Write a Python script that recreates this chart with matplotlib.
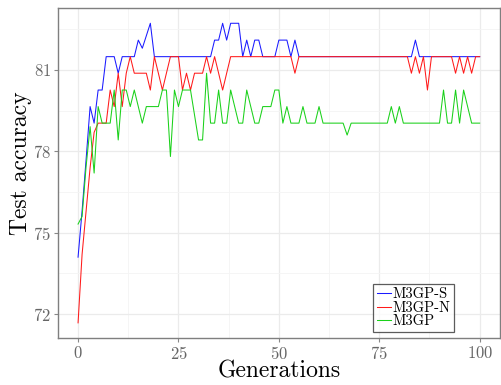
import matplotlib
matplotlib.use("Agg")
import matplotlib.pyplot as plt
import numpy as np
from matplotlib.ticker import MultipleLocator, FixedLocator

plt.rcParams['font.family'] = ['cmr10', 'DejaVu Serif']
plt.rcParams['axes.formatter.use_mathtext'] = True
plt.rcParams['axes.unicode_minus'] = False

generations = list(range(101))

m3gp_s = [74.1, 75.8, 77.7, 79.65, 79.04, 80.26, 80.26, 81.49, 81.49, 81.49,
          80.88, 81.49, 81.49, 81.49, 81.49, 82.1, 81.8, 82.26, 82.72, 81.49,
          81.49, 81.49, 81.49, 81.49, 81.49, 81.49, 81.49, 81.49, 81.49, 81.49,
          81.49, 81.49, 81.49, 81.49, 82.1, 82.1, 82.72, 82.1, 82.72, 82.72,
          82.72, 81.49, 82.1, 81.49, 82.1, 82.1, 81.49, 81.49, 81.49, 81.49,
          82.1, 82.1, 82.1, 81.49, 82.1, 81.49, 81.49, 81.49, 81.49, 81.49,
          81.49, 81.49, 81.49, 81.49, 81.49, 81.49, 81.49, 81.49, 81.49, 81.49,
          81.49, 81.49, 81.49, 81.49, 81.49, 81.49, 81.49, 81.49, 81.49, 81.49,
          81.49, 81.49, 81.49, 81.49, 82.1, 81.49, 81.49, 81.49, 81.49, 81.49,
          81.49, 81.49, 81.49, 81.49, 81.49, 81.49, 81.49, 81.49, 81.49, 81.49,
          81.49]

m3gp_n = [71.68, 74.2, 75.8, 77.4, 78.7, 79.04, 79.04, 79.04, 80.26, 79.65,
          80.88, 79.65, 80.88, 81.49, 80.88, 80.88, 80.88, 80.88, 80.26, 81.49,
          80.88, 80.26, 80.88, 81.49, 81.49, 81.49, 80.26, 80.88, 80.26, 80.88,
          80.88, 80.88, 81.49, 80.88, 81.49, 80.88, 80.26, 80.88, 81.49, 81.49,
          81.49, 81.49, 81.49, 81.49, 81.49, 81.49, 81.49, 81.49, 81.49, 81.49,
          81.49, 81.49, 81.49, 81.49, 80.88, 81.49, 81.49, 81.49, 81.49, 81.49,
          81.49, 81.49, 81.49, 81.49, 81.49, 81.49, 81.49, 81.49, 81.49, 81.49,
          81.49, 81.49, 81.49, 81.49, 81.49, 81.49, 81.49, 81.49, 81.49, 81.49,
          81.49, 81.49, 81.49, 80.88, 81.49, 80.88, 81.49, 80.26, 81.49, 81.49,
          81.49, 81.49, 81.49, 81.49, 80.88, 81.49, 80.88, 81.49, 80.88, 81.49,
          81.49]

m3gp = [75.32, 75.6, 77.44, 78.91, 77.2, 79.65, 79.04, 79.04, 79.04, 80.26,
        78.42, 80.26, 80.26, 79.65, 80.26, 79.65, 79.04, 79.65, 79.65, 79.65,
        79.65, 80.26, 80.26, 77.81, 80.26, 79.65, 80.26, 80.26, 80.26, 79.34,
        78.42, 78.42, 80.88, 79.04, 79.04, 80.26, 79.04, 79.04, 80.26, 79.65,
        79.04, 79.04, 80.26, 79.65, 79.04, 79.04, 79.65, 79.65, 79.65, 80.26,
        80.26, 79.04, 79.65, 79.04, 79.04, 79.04, 79.65, 79.04, 79.04, 79.04,
        79.65, 79.04, 79.04, 79.04, 79.04, 79.04, 79.04, 78.6, 79.04, 79.04,
        79.04, 79.04, 79.04, 79.04, 79.04, 79.04, 79.04, 79.04, 79.65, 79.04,
        79.65, 79.04, 79.04, 79.04, 79.04, 79.04, 79.04, 79.04, 79.04, 79.04,
        79.04, 80.26, 79.04, 79.04, 80.26, 79.04, 80.26, 79.65, 79.04, 79.04,
        79.04]

series_names = ["M3GP-S", "M3GP-N", "M3GP"]
series_colors = ["#1a1aff", "#ff1a1a", "#1ad11a"]
x_ticks = [0, 25, 50, 75, 100]
y_ticks = [72, 75, 78, 81]

fig = plt.figure(figsize=(5.02, 3.85), dpi=100)
ax = fig.add_axes([0.1155, 0.122, 0.88, 0.857])

for vals, name, col in zip([m3gp_s, m3gp_n, m3gp], series_names, series_colors):
    ax.plot(generations, vals, color=col, lw=0.75, label=name, zorder=3)

ax.set_xlim(-5, 105)
ax.set_ylim(71.12, 83.28)
ax.xaxis.set_major_locator(FixedLocator(x_ticks))
ax.yaxis.set_major_locator(FixedLocator(y_ticks))
ax.xaxis.set_minor_locator(FixedLocator([12.5, 37.5, 62.5, 87.5]))
ax.yaxis.set_minor_locator(FixedLocator([73.5, 76.5, 79.5, 82.5]))
ax.grid(which='major', color='#ebebeb', lw=0.9, zorder=0)
ax.grid(which='minor', color='#f4f4f4', lw=0.6, zorder=0)
ax.set_axisbelow(True)
ax.tick_params(which='major', direction='out', length=3, width=0.8, color='#888888',
               labelsize=12, labelcolor='#666666', pad=2)
ax.tick_params(which='minor', length=0)
for s in ax.spines.values():
    s.set_color('#7f7f7f')
    s.set_linewidth(1.0)

ax.set_xlabel('Generations', fontsize=17, color='black', labelpad=-1)
ax.set_ylabel('Test accuracy', fontsize=17, color='black')
ax.yaxis.set_label_coords(-0.058, 0.53)

leg = ax.legend(loc='lower left', bbox_to_anchor=(0.713, 0.018), frameon=True,
                fancybox=False, edgecolor='#333333', fontsize=10.5,
                handlelength=1.0, handletextpad=0.1, borderpad=0.25,
                labelspacing=0.0, borderaxespad=0)
leg.get_frame().set_linewidth(0.9)

fig.savefig('out.png', dpi=100)
